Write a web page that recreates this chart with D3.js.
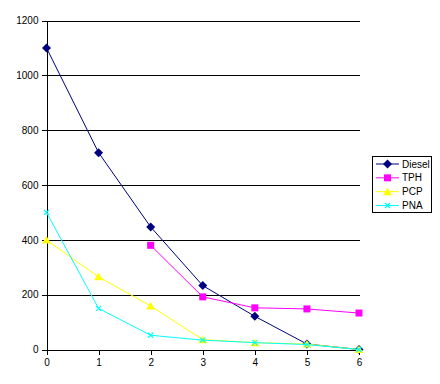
<!DOCTYPE html>
<html><head><meta charset="utf-8">
<script src="https://cdn.jsdelivr.net/npm/d3@7"></script>
<style>body{margin:0;background:#fff}svg{display:block}text{font-family:"Liberation Sans",Arial,sans-serif;font-size:10px;fill:#000}</style>
</head><body><svg id="c" width="440" height="384"></svg>
<script>
const xValues = [0, 1, 2, 3, 4, 5, 6];
const diesel = [1100, 718, 447, 233, 121, 20, 0];
const tph = [null, null, 380, 192, 152, 148, 133];
const pcp = [399, 265, 159, 36, 25, 20, 0];
const pna = [500, 150, 52, 34, 25, 18, 0];
const yTicks = [0, 200, 400, 600, 800, 1000, 1200];
const seriesNames = ["Diesel", "TPH", "PCP", "PNA"];
const seriesColors = ["#000080", "#FF00FF", "#FFFF00", "#00FFFF"];
const seriesMarkers = ["diamond", "square", "triangle", "x"];
const seriesData = [diesel, tph, pcp, pna];

const svg = d3.select("#c");
const x = d3.scaleLinear().domain([0, 6]).range([46.5, 359]);
const y = d3.scaleLinear().domain([0, 1200]).range([349.5, 20.5]);

// gridlines
svg.append("g").selectAll("line").data(yTicks.filter(d => d > 0)).join("line")
  .attr("x1", 46).attr("x2", 359.5).attr("y1", d => Math.round(y(d)) + 0.5).attr("y2", d => Math.round(y(d)) + 0.5)
  .attr("stroke", "#000").attr("shape-rendering", "crispEdges");

// y axis
const ya = svg.append("g").attr("transform", "translate(46.5,0)")
  .call(d3.axisLeft(y).tickValues(yTicks).tickSize(5).tickPadding(3).tickFormat(d3.format("d")));
ya.select(".domain").attr("stroke", "#000").attr("shape-rendering", "crispEdges");
ya.selectAll(".tick line").attr("stroke", "#000").attr("shape-rendering", "crispEdges");
ya.selectAll("text").style("font-family", '"Liberation Sans",Arial,sans-serif').style("font-size", "10px").attr("fill", "#000");

// x axis
const xa = svg.append("g").attr("transform", "translate(0,349.5)")
  .call(d3.axisBottom(x).tickValues(xValues).tickSize(5).tickPadding(4).tickFormat(d3.format("d")));
xa.select(".domain").attr("stroke", "#000").attr("shape-rendering", "crispEdges");
xa.selectAll(".tick line").attr("stroke", "#000").attr("shape-rendering", "crispEdges");
xa.selectAll("text").style("font-family", '"Liberation Sans",Arial,sans-serif').style("font-size", "10px").attr("fill", "#000");

function marker(g, type, cx, cy, color) {
  if (type === "diamond") {
    g.append("path").attr("d", `M${cx},${cy-4.5}L${cx+4.5},${cy}L${cx},${cy+4.5}L${cx-4.5},${cy}Z`).attr("fill", color);
  } else if (type === "square") {
    g.append("rect").attr("x", cx - 3.5).attr("y", cy - 3.5).attr("width", 7).attr("height", 7).attr("fill", color);
  } else if (type === "triangle") {
    g.append("path").attr("d", `M${cx},${cy-4}L${cx+4.5},${cy+3.5}L${cx-4.5},${cy+3.5}Z`).attr("fill", color);
  } else {
    g.append("path").attr("d", `M${cx-2.5},${cy-2.5}L${cx+2.5},${cy+2.5}M${cx+2.5},${cy-2.5}L${cx-2.5},${cy+2.5}`)
      .attr("stroke", color).attr("stroke-width", 1.2).attr("fill", "none");
  }
}

const line = d3.line().defined(d => d[1] !== null).x(d => x(d[0])).y(d => y(d[1]));
seriesData.forEach((data, i) => {
  const g = svg.append("g");
  const pts = xValues.map((xv, j) => [xv, data[j]]);
  g.append("path").attr("d", line(pts)).attr("fill", "none").attr("stroke", seriesColors[i]).attr("stroke-width", 1);
  pts.filter(p => p[1] !== null).forEach(p => marker(g, seriesMarkers[i], x(p[0]), y(p[1]), seriesColors[i]));
});

// legend
const lg = svg.append("g");
lg.append("rect").attr("x", 372.5).attr("y", 156.5).attr("width", 59).attr("height", 56)
  .attr("fill", "#fff").attr("stroke", "#000").attr("stroke-width", 1);
const legY = d3.scalePoint().domain(seriesNames).range([164, 205.5]);
seriesNames.forEach((n, i) => {
  const cy = legY(n);
  lg.append("line").attr("x1", 376).attr("x2", 399).attr("y1", cy).attr("y2", cy).attr("stroke", seriesColors[i]);
  marker(lg, seriesMarkers[i], 387.5, cy, seriesColors[i]);
  lg.append("text").attr("x", 402).attr("y", cy).attr("dy", "0.35em").text(n);
});
</script></body></html>
